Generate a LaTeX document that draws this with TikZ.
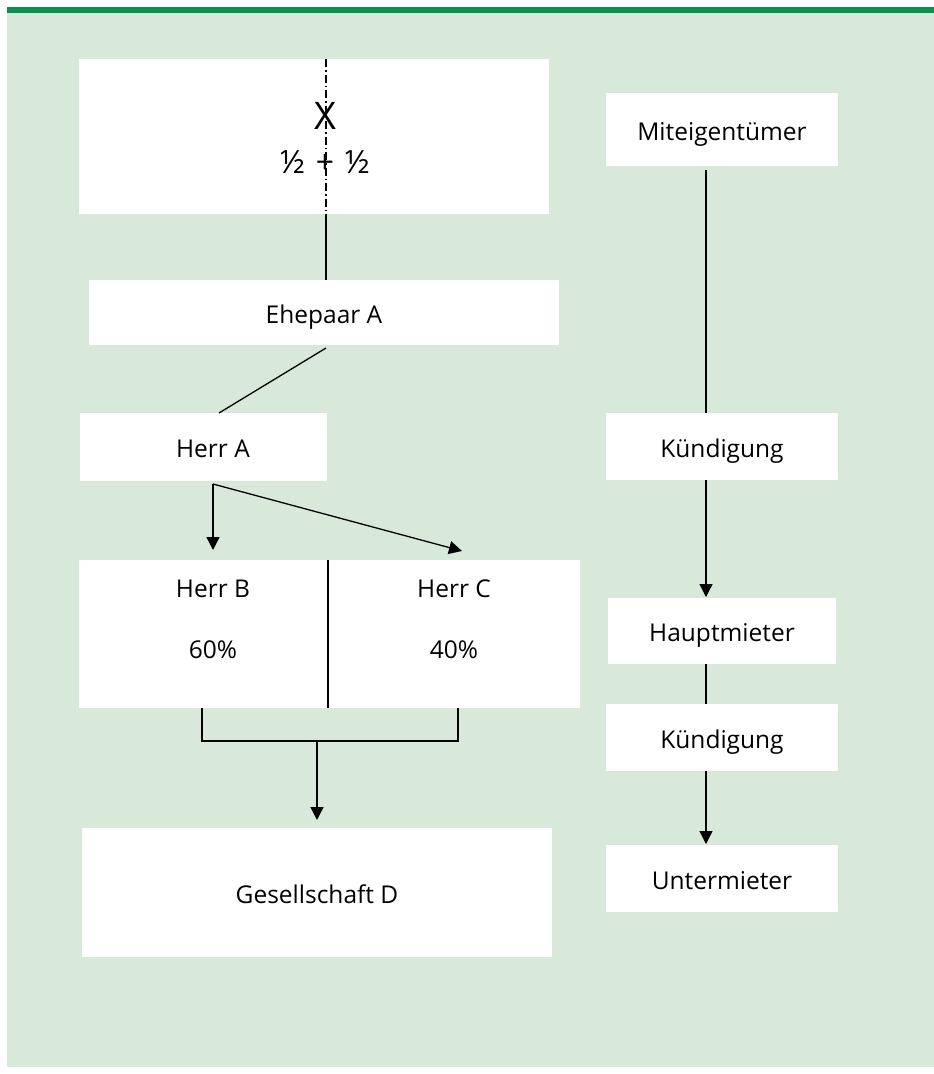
\documentclass[tikz,border=0pt]{standalone}
\usepackage{fontspec}
\setmainfont{Open Sans}
\usetikzlibrary{arrows.meta}
\definecolor{bggreen}{RGB}{216,233,218}
\definecolor{bargreen}{RGB}{8,146,82}
\begin{document}
\begin{tikzpicture}[x=1pt,y=-1pt,
  box/.style={fill=white,draw=none,inner sep=0pt,text height=22pt,text depth=1pt,font=\fontsize{24.5}{28}\selectfont},
  txt/.style={inner sep=0pt,text height=22pt,text depth=1pt,font=\fontsize{24.5}{28}\selectfont},
  conn/.style={line width=1.3pt},
  arr/.style={line width=1.3pt,-{Triangle[length=13pt,width=13pt]}},
  dashdot/.style={line width=1.1pt,dash pattern=on 8pt off 3pt on 1.5pt off 3pt}]
\useasboundingbox (0,0) rectangle (934,1074);
\fill[bggreen] (7,7) rectangle (934,1067);
\fill[bargreen] (7,7) rectangle (934,13);
% left column boxes
\node[box,minimum width=470pt,minimum height=155pt] (top) at (314,136.5) {};
\node[inner sep=0pt,font=\fontsize{38}{40}\selectfont] (X) at (325,116) {X};
\node[inner sep=0pt,font=\fontsize{32}{36}\selectfont] (half) at (325,162) {½\,\,+\,\,½};
\node[box,minimum width=470pt,minimum height=65pt] (ehe) at (324,312.5) {Ehepaar A};
\node[box,minimum width=247pt,minimum height=68pt] (herrA) at (203.5,447) {};
\node[txt] (herrAt) at (213,447) {Herr A};
\node[box,minimum width=501pt,minimum height=148pt] (bc) at (329.5,634) {};
\node[txt] (hb) at (213,587) {Herr B};
\node[txt] (pb) at (213,648) {60\%};
\node[txt] (hc) at (454,587) {Herr C};
\node[txt] (pc) at (454,648) {40\%};
\node[box,minimum width=470pt,minimum height=129pt] (ges) at (317,892.5) {Gesellschaft D};
% right column boxes
\node[box,minimum width=232pt,minimum height=73pt] (mit) at (722,129.5) {Miteigentümer};
\node[box,minimum width=232pt,minimum height=67pt] (k1) at (722,446.5) {Kündigung};
\node[box,minimum width=228pt,minimum height=66pt] (haupt) at (722,631) {Hauptmieter};
\node[box,minimum width=232pt,minimum height=67pt] (k2) at (722,737.5) {Kündigung};
\node[box,minimum width=232pt,minimum height=67pt] (unter) at (722,878.5) {Untermieter};
% coordinates
\coordinate (t1) at (326,59);
\coordinate (t2) at (326,214);
\coordinate (e1) at (326,348);
\coordinate (a1) at (219,413);
\coordinate (a2) at (213,484);
\coordinate (bB) at (213,550);
\coordinate (bC) at (462,551);
\coordinate (d1) at (328,560);
\coordinate (d2) at (328,708);
\coordinate (br1) at (202,708);
\coordinate (br2) at (202,741);
\coordinate (br3) at (458,741);
\coordinate (br4) at (458,708);
\coordinate (g1) at (317,741);
\coordinate (g2) at (317,820);
% connectors left
\draw[dashdot] (t1) -- (t2);
\draw[conn] (t2) -- (326,280);
\draw[conn] (e1) -- (a1);
\draw[arr] (a2) -- (bB);
\draw[arr] (a2) -- (bC);
\draw[line width=1.8pt] (d1) -- (d2);
\draw[line width=2.2pt] (br1) -- (br2) -- (br3) -- (br4);
\draw[arr] (g1) -- (g2);
% connectors right
\draw[conn] (706,170) -- (706,413);
\draw[arr] (706,480) -- (706,597);
\draw[conn] (706,664) -- (706,704);
\draw[arr] (706,771) -- (706,844);
\end{tikzpicture}
\end{document}
